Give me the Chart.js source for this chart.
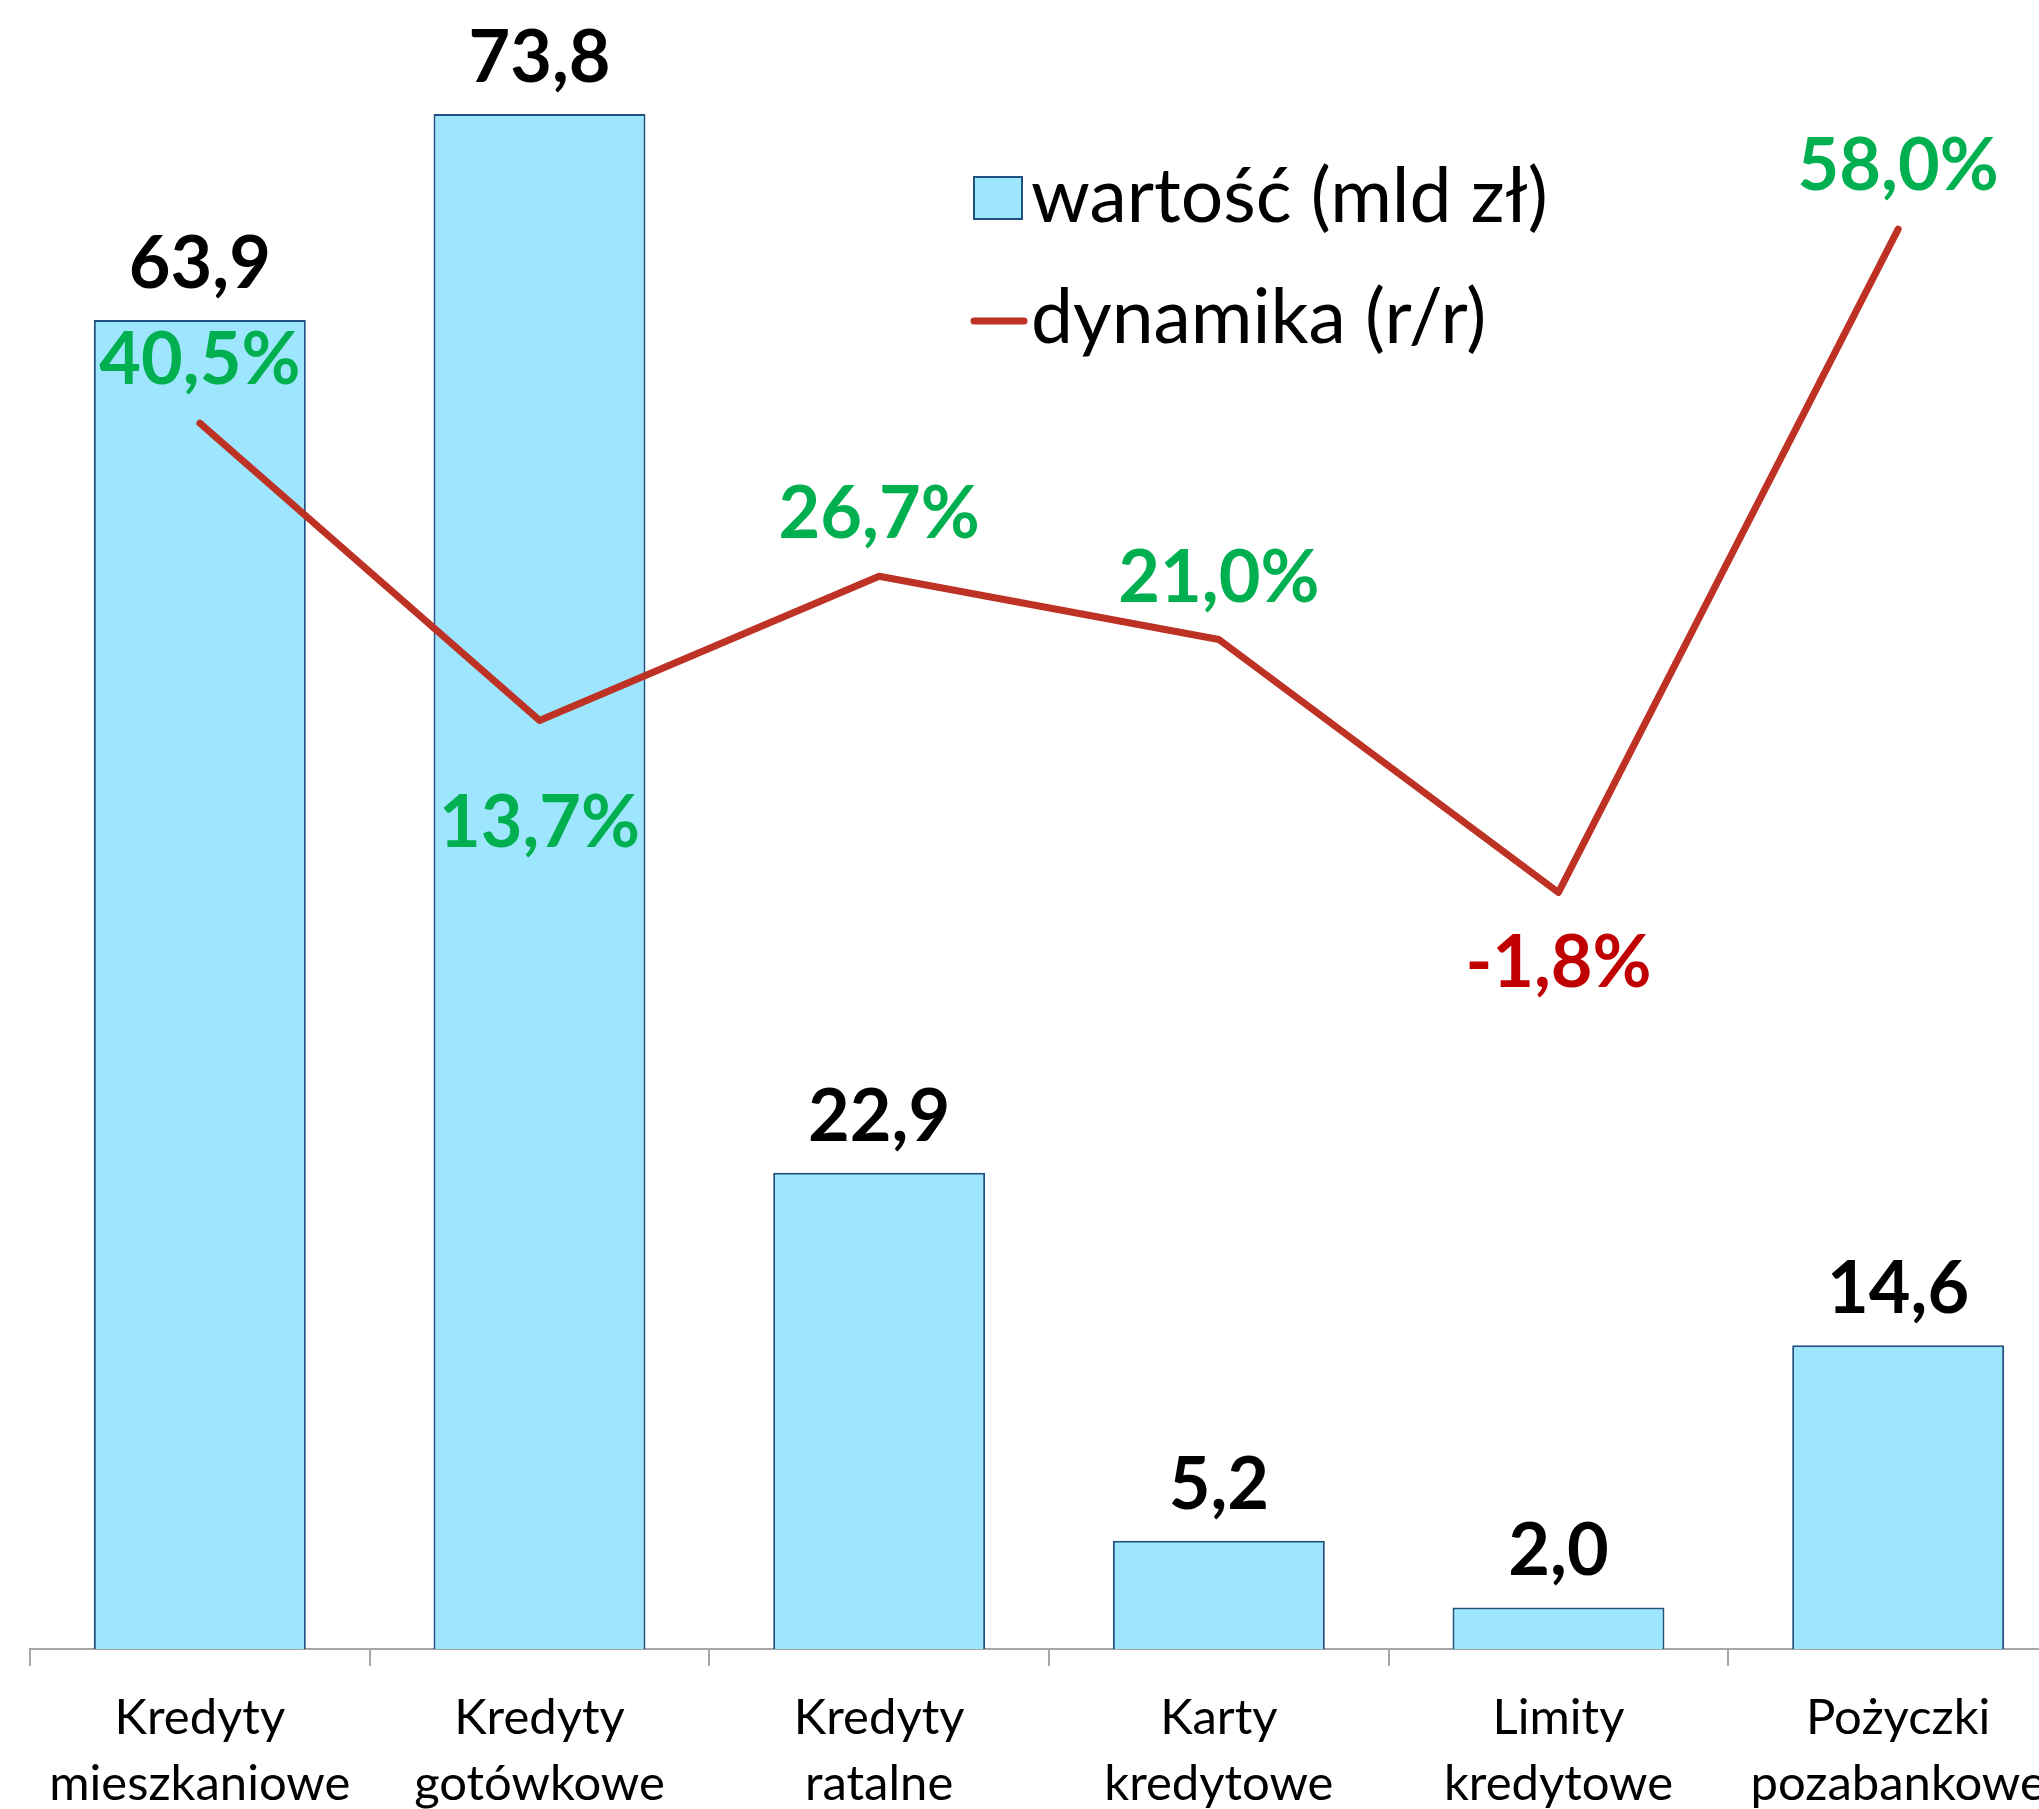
<!DOCTYPE html>
<html>
<head>
<meta charset="utf-8">
<script src="https://cdn.jsdelivr.net/npm/chart.js@4.4.0/dist/chart.umd.min.js"></script>
<style>
  html, body { margin: 0; padding: 0; background: #fff; overflow: hidden; }
  #wrap { position: absolute; left: 0; top: -15px; width: 2080px; height: 1824px; }
</style>
</head>
<body>
<div id="wrap"><canvas id="loanChart" width="2080" height="1824"></canvas></div>
<script>
// -------------------------
// Data
// -------------------------
const categories = [
    ['Kredyty', 'mieszkaniowe'],
    ['Kredyty', 'gotówkowe'],
    ['Kredyty', 'ratalne'],
    ['Karty', 'kredytowe'],
    ['Limity', 'kredytowe'],
    ['Pożyczki', 'pozabankowe']
];
const values = [63.9, 73.8, 22.9, 5.2, 2.0, 14.6];      // mld zł
const dynamics = [40.5, 13.7, 26.7, 21.0, -1.8, 58.0];  // % r/r
const valueLabel = 'wartość (mld zł)';
const dynamicsLabel = 'dynamika (r/r)';

// label placement for the line (baseline offset from point, px)
const dynLabelOffsets = [-39, 127, -38, -38, 95, -39];

const FONT = 'Lato, Carlito, "Open Sans", sans-serif';
const lineColor = '#bd3224';

function fmt(v) {
    return v.toFixed(1).replace('.', ',');
}

// -------------------------
// Labels + legend plugin
// -------------------------
const labelPlugin = {
    id: 'labelPlugin',
    afterDatasetsDraw(chart) {
        const ctx = chart.ctx;
        ctx.save();
        ctx.textAlign = 'center';
        ctx.textBaseline = 'alphabetic';
        ctx.font = 'bold 72px ' + FONT;

        // bar values
        const barMeta = chart.getDatasetMeta(0);
        barMeta.data.forEach((bar, i) => {
            ctx.fillStyle = '#000';
            ctx.fillText(fmt(values[i]), bar.x, bar.y - 32);
        });

        // dynamics
        const lineMeta = chart.getDatasetMeta(1);
        lineMeta.data.forEach((pt, i) => {
            ctx.fillStyle = dynamics[i] < 0 ? '#c00000' : '#00b050';
            ctx.fillText(fmt(dynamics[i]) + '%', pt.x, pt.y + dynLabelOffsets[i]);
        });

        // legend
        ctx.textAlign = 'left';
        ctx.font = '75px ' + FONT;
        ctx.fillStyle = '#9de6fd';
        ctx.strokeStyle = '#1f5283';
        ctx.lineWidth = 2;
        ctx.fillRect(974, 192, 48, 42);
        ctx.strokeRect(974, 192, 48, 42);
        ctx.fillStyle = '#000';
        ctx.fillText(valueLabel, 1031, 237);

        ctx.strokeStyle = lineColor;
        ctx.lineWidth = 7;
        ctx.lineCap = 'round';
        ctx.beginPath();
        ctx.moveTo(974, 336);
        ctx.lineTo(1024, 336);
        ctx.stroke();
        ctx.fillText(dynamicsLabel, 1031, 358);
        ctx.restore();
    }
};

// -------------------------
// Chart
// -------------------------
const ctx = document.getElementById('loanChart').getContext('2d');
const loanChart = new Chart(ctx, {
    data: {
        labels: categories,
        datasets: [{
            type: 'bar',
            label: valueLabel,
            data: values,
            yAxisID: 'y',
            backgroundColor: '#9de6fd',
            borderColor: '#1f5283',
            borderWidth: 2,
            categoryPercentage: 1,
            barPercentage: 0.624,
            order: 2
        }, {
            type: 'line',
            label: dynamicsLabel,
            data: dynamics,
            yAxisID: 'y2',
            borderColor: lineColor,
            borderWidth: 7,
            borderCapStyle: 'round',
            borderJoinStyle: 'round',
            pointRadius: 0,
            tension: 0,
            order: 1
        }]
    },
    options: {
        responsive: false,
        animation: false,
        devicePixelRatio: 1,
        layout: { padding: { left: 30, right: 12, top: 0, bottom: 0 } },
        plugins: { legend: { display: false }, tooltip: { enabled: false } },
        scales: {
            x: {
                offset: true,
                grid: {
                    offset: true,
                    drawOnChartArea: false,
                    drawTicks: true,
                    tickLength: 17,
                    color: '#a6a6a6',
                    lineWidth: 2
                },
                border: { display: true, color: '#a6a6a6', width: 2 },
                ticks: {
                    color: '#000',
                    font: { family: FONT, size: 49, lineHeight: 1.33 },
                    padding: 20,
                    maxRotation: 0,
                    autoSkip: false
                },
                afterFit(scale) { scale.height = 160; }
            },
            y: { display: false, min: 0, max: 80 },
            y2: { display: false, min: -70, max: 80, position: 'right' }
        }
    },
    plugins: [labelPlugin]
});
</script>
</body>
</html>
